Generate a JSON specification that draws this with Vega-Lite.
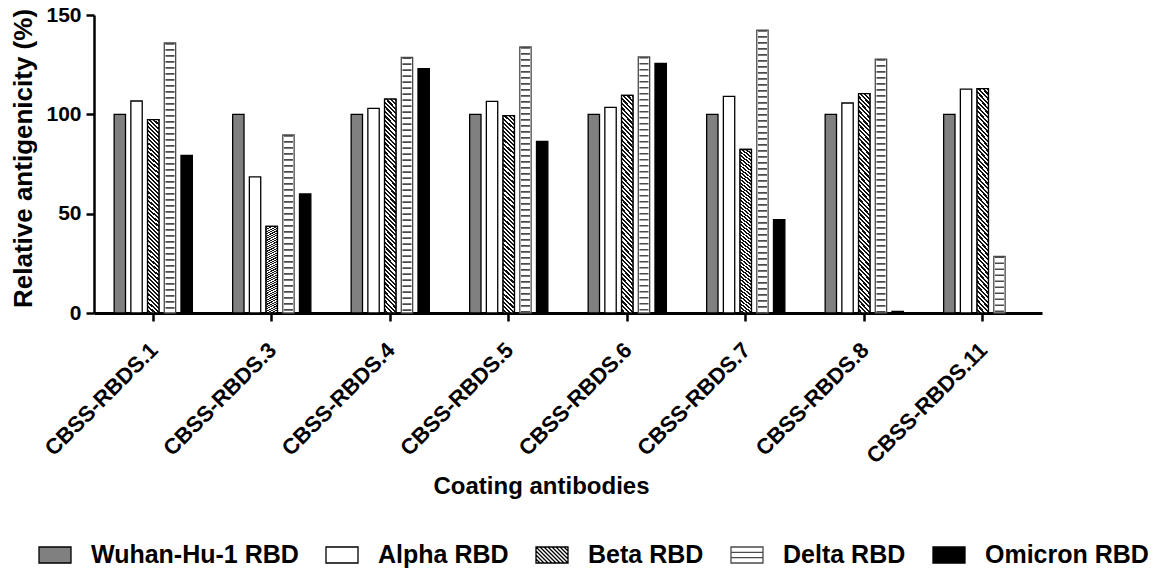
{
  "$schema": "https://vega.github.io/schema/vega-lite/v6.json",
  "width": 948,
  "height": 298,
  "autosize": {"type": "none"},
  "padding": {"left": 94, "top": 15, "right": 112, "bottom": 256},
  "background": "white",
  "config": {
    "font": "Liberation Sans",
    "view": {"stroke": null},
    "axis": {
      "grid": false,
      "domainColor": "#000",
      "tickColor": "#000",
      "tickWidth": 2.5,
      "tickSize": 8,
      "labelColor": "#000",
      "labelFont": "Liberation Sans",
      "labelFontWeight": "bold",
      "titleFont": "Liberation Sans",
      "titleFontWeight": "bold",
      "titleColor": "#000"
    },
    "legend": {
      "symbolSize": 1024,
      "symbolStrokeWidth": 1.3,
      "symbolOpacity": 1,
      "labelFont": "Liberation Sans",
      "labelFontSize": 25,
      "labelFontWeight": "bold",
      "labelColor": "#000",
      "labelOffset": 19,
      "columnPadding": 24,
      "labelLimit": 400
    }
  },
  "data": {
    "values": [
      {"antibody": "CBSS-RBDS.1", "series": "Wuhan-Hu-1 RBD", "value": 100},
      {"antibody": "CBSS-RBDS.1", "series": "Alpha RBD", "value": 106.7},
      {"antibody": "CBSS-RBDS.1", "series": "Beta RBD", "value": 97.3},
      {"antibody": "CBSS-RBDS.1", "series": "Delta RBD", "value": 135.9},
      {"antibody": "CBSS-RBDS.1", "series": "Omicron RBD", "value": 79.3},
      {"antibody": "CBSS-RBDS.3", "series": "Wuhan-Hu-1 RBD", "value": 100},
      {"antibody": "CBSS-RBDS.3", "series": "Alpha RBD", "value": 68.5},
      {"antibody": "CBSS-RBDS.3", "series": "Beta RBD", "value": 43.6},
      {"antibody": "CBSS-RBDS.3", "series": "Delta RBD", "value": 89.6},
      {"antibody": "CBSS-RBDS.3", "series": "Omicron RBD", "value": 59.9},
      {"antibody": "CBSS-RBDS.4", "series": "Wuhan-Hu-1 RBD", "value": 100},
      {"antibody": "CBSS-RBDS.4", "series": "Alpha RBD", "value": 103.0},
      {"antibody": "CBSS-RBDS.4", "series": "Beta RBD", "value": 107.7},
      {"antibody": "CBSS-RBDS.4", "series": "Delta RBD", "value": 128.7},
      {"antibody": "CBSS-RBDS.4", "series": "Omicron RBD", "value": 123.0},
      {"antibody": "CBSS-RBDS.5", "series": "Wuhan-Hu-1 RBD", "value": 100},
      {"antibody": "CBSS-RBDS.5", "series": "Alpha RBD", "value": 106.5},
      {"antibody": "CBSS-RBDS.5", "series": "Beta RBD", "value": 99.3},
      {"antibody": "CBSS-RBDS.5", "series": "Delta RBD", "value": 133.9},
      {"antibody": "CBSS-RBDS.5", "series": "Omicron RBD", "value": 86.4},
      {"antibody": "CBSS-RBDS.6", "series": "Wuhan-Hu-1 RBD", "value": 100},
      {"antibody": "CBSS-RBDS.6", "series": "Alpha RBD", "value": 103.5},
      {"antibody": "CBSS-RBDS.6", "series": "Beta RBD", "value": 109.5},
      {"antibody": "CBSS-RBDS.6", "series": "Delta RBD", "value": 128.9},
      {"antibody": "CBSS-RBDS.6", "series": "Omicron RBD", "value": 125.6},
      {"antibody": "CBSS-RBDS.7", "series": "Wuhan-Hu-1 RBD", "value": 100},
      {"antibody": "CBSS-RBDS.7", "series": "Alpha RBD", "value": 109.0},
      {"antibody": "CBSS-RBDS.7", "series": "Beta RBD", "value": 82.3},
      {"antibody": "CBSS-RBDS.7", "series": "Delta RBD", "value": 142.4},
      {"antibody": "CBSS-RBDS.7", "series": "Omicron RBD", "value": 47.0},
      {"antibody": "CBSS-RBDS.8", "series": "Wuhan-Hu-1 RBD", "value": 100},
      {"antibody": "CBSS-RBDS.8", "series": "Alpha RBD", "value": 105.7},
      {"antibody": "CBSS-RBDS.8", "series": "Beta RBD", "value": 110.4},
      {"antibody": "CBSS-RBDS.8", "series": "Delta RBD", "value": 127.8},
      {"antibody": "CBSS-RBDS.8", "series": "Omicron RBD", "value": 0.8},
      {"antibody": "CBSS-RBDS.11", "series": "Wuhan-Hu-1 RBD", "value": 100},
      {"antibody": "CBSS-RBDS.11", "series": "Alpha RBD", "value": 112.7},
      {"antibody": "CBSS-RBDS.11", "series": "Beta RBD", "value": 112.9},
      {"antibody": "CBSS-RBDS.11", "series": "Delta RBD", "value": 28.5}
    ]
  },
  "encoding": {
    "x": {
      "field": "antibody",
      "type": "nominal",
      "title": "Coating antibodies",
      "scale": {
        "domain": ["CBSS-RBDS.1", "CBSS-RBDS.3", "CBSS-RBDS.4", "CBSS-RBDS.5", "CBSS-RBDS.6", "CBSS-RBDS.7", "CBSS-RBDS.8", "CBSS-RBDS.11"],
        "paddingInner": 0.34,
        "paddingOuter": 0.17
      },
      "axis": {
        "labelAngle": -45,
        "labelAlign": "right",
        "labelBaseline": "top",
        "labelFontSize": 22,
        "labelPadding": 18,
        "labelOffset": -6,
        "titleFontSize": 24,
        "titleX": 447,
        "titleY": 180,
        "titleAlign": "center",
        "titleBaseline": "alphabetic",
        "domainWidth": 3
      }
    },
    "xOffset": {
      "field": "series",
      "type": "nominal",
      "scale": {
        "domain": ["Wuhan-Hu-1 RBD", "Alpha RBD", "Beta RBD", "Delta RBD", "Omicron RBD"],
        "paddingInner": 0.32,
        "paddingOuter": 0
      }
    },
    "y": {
      "field": "value",
      "type": "quantitative",
      "title": "Relative antigenicity (%)",
      "scale": {"domain": [0, 150], "nice": false},
      "axis": {
        "values": [0, 50, 100, 150],
        "labelFontSize": 21,
        "labelPadding": 5,
        "labelFlush": false,
        "titleFontSize": 26,
        "titleX": -63,
        "titleY": 143,
        "titleAngle": -90,
        "titleAlign": "center",
        "titleBaseline": "alphabetic",
        "domainWidth": 2.5
      }
    }
  },
  "layer": [
    {
      "mark": {"type": "bar", "strokeWidth": 1.3},
      "encoding": {
        "fill": {
          "field": "series",
          "type": "nominal",
          "scale": {
            "domain": ["Wuhan-Hu-1 RBD", "Alpha RBD", "Beta RBD", "Delta RBD", "Omicron RBD"],
            "range": ["#808080", "#ffffff", "#ffffff", "#ffffff", "#000000"]
          },
          "legend": {"title": null, "orient": "none", "legendX": -56, "legendY": 523, "direction": "horizontal", "columns": 5}
        },
        "stroke": {
          "field": "series",
          "type": "nominal",
          "scale": {
            "domain": ["Wuhan-Hu-1 RBD", "Alpha RBD", "Beta RBD", "Delta RBD", "Omicron RBD"],
            "range": ["#000000", "#000000", "#000000", "#4a4a4a", "#000000"]
          },
          "legend": {"title": null, "orient": "none", "legendX": -56, "legendY": 523, "direction": "horizontal", "columns": 5}
        }
      }
    },
    {
      "transform": [{"filter": "datum.series === 'Beta RBD'"}],
      "mark": {
        "type": "bar",
        "stroke": "#000000",
        "strokeWidth": 1.3,
        "fill": {
          "gradient": "linear",
          "x1": 1, "y1": 0, "x2": 0.9417, "y2": 1.0522,
          "stops": [
            {"offset":0,"color":"#111"},{"offset":0.01,"color":"#111"},{"offset":0.01,"color":"#fff"},{"offset":0.02,"color":"#fff"},
            {"offset":0.02,"color":"#111"},{"offset":0.03,"color":"#111"},{"offset":0.03,"color":"#fff"},{"offset":0.04,"color":"#fff"},
            {"offset":0.04,"color":"#111"},{"offset":0.05,"color":"#111"},{"offset":0.05,"color":"#fff"},{"offset":0.06,"color":"#fff"},
            {"offset":0.06,"color":"#111"},{"offset":0.07,"color":"#111"},{"offset":0.07,"color":"#fff"},{"offset":0.08,"color":"#fff"},
            {"offset":0.08,"color":"#111"},{"offset":0.09,"color":"#111"},{"offset":0.09,"color":"#fff"},{"offset":0.10,"color":"#fff"},
            {"offset":0.10,"color":"#111"},{"offset":0.11,"color":"#111"},{"offset":0.11,"color":"#fff"},{"offset":0.12,"color":"#fff"},
            {"offset":0.12,"color":"#111"},{"offset":0.13,"color":"#111"},{"offset":0.13,"color":"#fff"},{"offset":0.14,"color":"#fff"},
            {"offset":0.14,"color":"#111"},{"offset":0.15,"color":"#111"},{"offset":0.15,"color":"#fff"},{"offset":0.16,"color":"#fff"},
            {"offset":0.16,"color":"#111"},{"offset":0.17,"color":"#111"},{"offset":0.17,"color":"#fff"},{"offset":0.18,"color":"#fff"},
            {"offset":0.18,"color":"#111"},{"offset":0.19,"color":"#111"},{"offset":0.19,"color":"#fff"},{"offset":0.20,"color":"#fff"},
            {"offset":0.20,"color":"#111"},{"offset":0.21,"color":"#111"},{"offset":0.21,"color":"#fff"},{"offset":0.22,"color":"#fff"},
            {"offset":0.22,"color":"#111"},{"offset":0.23,"color":"#111"},{"offset":0.23,"color":"#fff"},{"offset":0.24,"color":"#fff"},
            {"offset":0.24,"color":"#111"},{"offset":0.25,"color":"#111"},{"offset":0.25,"color":"#fff"},{"offset":0.26,"color":"#fff"},
            {"offset":0.26,"color":"#111"},{"offset":0.27,"color":"#111"},{"offset":0.27,"color":"#fff"},{"offset":0.28,"color":"#fff"},
            {"offset":0.28,"color":"#111"},{"offset":0.29,"color":"#111"},{"offset":0.29,"color":"#fff"},{"offset":0.30,"color":"#fff"},
            {"offset":0.30,"color":"#111"},{"offset":0.31,"color":"#111"},{"offset":0.31,"color":"#fff"},{"offset":0.32,"color":"#fff"},
            {"offset":0.32,"color":"#111"},{"offset":0.33,"color":"#111"},{"offset":0.33,"color":"#fff"},{"offset":0.34,"color":"#fff"},
            {"offset":0.34,"color":"#111"},{"offset":0.35,"color":"#111"},{"offset":0.35,"color":"#fff"},{"offset":0.36,"color":"#fff"},
            {"offset":0.36,"color":"#111"},{"offset":0.37,"color":"#111"},{"offset":0.37,"color":"#fff"},{"offset":0.38,"color":"#fff"},
            {"offset":0.38,"color":"#111"},{"offset":0.39,"color":"#111"},{"offset":0.39,"color":"#fff"},{"offset":0.40,"color":"#fff"},
            {"offset":0.40,"color":"#111"},{"offset":0.41,"color":"#111"},{"offset":0.41,"color":"#fff"},{"offset":0.42,"color":"#fff"},
            {"offset":0.42,"color":"#111"},{"offset":0.43,"color":"#111"},{"offset":0.43,"color":"#fff"},{"offset":0.44,"color":"#fff"},
            {"offset":0.44,"color":"#111"},{"offset":0.45,"color":"#111"},{"offset":0.45,"color":"#fff"},{"offset":0.46,"color":"#fff"},
            {"offset":0.46,"color":"#111"},{"offset":0.47,"color":"#111"},{"offset":0.47,"color":"#fff"},{"offset":0.48,"color":"#fff"},
            {"offset":0.48,"color":"#111"},{"offset":0.49,"color":"#111"},{"offset":0.49,"color":"#fff"},{"offset":0.50,"color":"#fff"},
            {"offset":0.50,"color":"#111"},{"offset":0.51,"color":"#111"},{"offset":0.51,"color":"#fff"},{"offset":0.52,"color":"#fff"},
            {"offset":0.52,"color":"#111"},{"offset":0.53,"color":"#111"},{"offset":0.53,"color":"#fff"},{"offset":0.54,"color":"#fff"},
            {"offset":0.54,"color":"#111"},{"offset":0.55,"color":"#111"},{"offset":0.55,"color":"#fff"},{"offset":0.56,"color":"#fff"},
            {"offset":0.56,"color":"#111"},{"offset":0.57,"color":"#111"},{"offset":0.57,"color":"#fff"},{"offset":0.58,"color":"#fff"},
            {"offset":0.58,"color":"#111"},{"offset":0.59,"color":"#111"},{"offset":0.59,"color":"#fff"},{"offset":0.60,"color":"#fff"},
            {"offset":0.60,"color":"#111"},{"offset":0.61,"color":"#111"},{"offset":0.61,"color":"#fff"},{"offset":0.62,"color":"#fff"},
            {"offset":0.62,"color":"#111"},{"offset":0.63,"color":"#111"},{"offset":0.63,"color":"#fff"},{"offset":0.64,"color":"#fff"},
            {"offset":0.64,"color":"#111"},{"offset":0.65,"color":"#111"},{"offset":0.65,"color":"#fff"},{"offset":0.66,"color":"#fff"},
            {"offset":0.66,"color":"#111"},{"offset":0.67,"color":"#111"},{"offset":0.67,"color":"#fff"},{"offset":0.68,"color":"#fff"},
            {"offset":0.68,"color":"#111"},{"offset":0.69,"color":"#111"},{"offset":0.69,"color":"#fff"},{"offset":0.70,"color":"#fff"},
            {"offset":0.70,"color":"#111"},{"offset":0.71,"color":"#111"},{"offset":0.71,"color":"#fff"},{"offset":0.72,"color":"#fff"},
            {"offset":0.72,"color":"#111"},{"offset":0.73,"color":"#111"},{"offset":0.73,"color":"#fff"},{"offset":0.74,"color":"#fff"},
            {"offset":0.74,"color":"#111"},{"offset":0.75,"color":"#111"},{"offset":0.75,"color":"#fff"},{"offset":0.76,"color":"#fff"},
            {"offset":0.76,"color":"#111"},{"offset":0.77,"color":"#111"},{"offset":0.77,"color":"#fff"},{"offset":0.78,"color":"#fff"},
            {"offset":0.78,"color":"#111"},{"offset":0.79,"color":"#111"},{"offset":0.79,"color":"#fff"},{"offset":0.80,"color":"#fff"},
            {"offset":0.80,"color":"#111"},{"offset":0.81,"color":"#111"},{"offset":0.81,"color":"#fff"},{"offset":0.82,"color":"#fff"},
            {"offset":0.82,"color":"#111"},{"offset":0.83,"color":"#111"},{"offset":0.83,"color":"#fff"},{"offset":0.84,"color":"#fff"},
            {"offset":0.84,"color":"#111"},{"offset":0.85,"color":"#111"},{"offset":0.85,"color":"#fff"},{"offset":0.86,"color":"#fff"},
            {"offset":0.86,"color":"#111"},{"offset":0.87,"color":"#111"},{"offset":0.87,"color":"#fff"},{"offset":0.88,"color":"#fff"},
            {"offset":0.88,"color":"#111"},{"offset":0.89,"color":"#111"},{"offset":0.89,"color":"#fff"},{"offset":0.90,"color":"#fff"},
            {"offset":0.90,"color":"#111"},{"offset":0.91,"color":"#111"},{"offset":0.91,"color":"#fff"},{"offset":0.92,"color":"#fff"},
            {"offset":0.92,"color":"#111"},{"offset":0.93,"color":"#111"},{"offset":0.93,"color":"#fff"},{"offset":0.94,"color":"#fff"},
            {"offset":0.94,"color":"#111"},{"offset":0.95,"color":"#111"},{"offset":0.95,"color":"#fff"},{"offset":0.96,"color":"#fff"},
            {"offset":0.96,"color":"#111"},{"offset":0.97,"color":"#111"},{"offset":0.97,"color":"#fff"},{"offset":0.98,"color":"#fff"},
            {"offset":0.98,"color":"#111"},{"offset":0.99,"color":"#111"},{"offset":0.99,"color":"#fff"},{"offset":1,"color":"#fff"}
          ]
        }
      }
    },
    {
      "transform": [{"filter": "datum.series === 'Delta RBD'"}],
      "mark": {"type": "rule", "strokeWidth": 9, "strokeDash": [1.7, 4.3], "color": "#4a4a4a", "strokeCap": "butt"},
      "encoding": {
        "y2": {"datum": 0}
      }
    },
    {
      "mark": {"type": "point", "filled": true, "opacity": 0},
      "encoding": {
        "fill": {
          "field": "series",
          "type": "nominal",
          "scale": {
            "domain": ["Wuhan-Hu-1 RBD", "Alpha RBD", "Beta RBD", "Delta RBD", "Omicron RBD"],
            "range": ["#808080", "#ffffff", "#ffffff", "#ffffff", "#000000"]
          },
          "legend": {"title": null, "orient": "none", "legendX": -56, "legendY": 523, "direction": "horizontal", "columns": 5}
        },
        "stroke": {
          "field": "series",
          "type": "nominal",
          "scale": {
            "domain": ["Wuhan-Hu-1 RBD", "Alpha RBD", "Beta RBD", "Delta RBD", "Omicron RBD"],
            "range": ["#000000", "#000000", "#000000", "#4a4a4a", "#000000"]
          },
          "legend": {"title": null, "orient": "none", "legendX": -56, "legendY": 523, "direction": "horizontal", "columns": 5}
        },
        "shape": {
          "field": "series",
          "type": "nominal",
          "scale": {
            "domain": ["Wuhan-Hu-1 RBD", "Alpha RBD", "Beta RBD", "Delta RBD", "Omicron RBD"],
            "range": [
              "M-1,-0.5H1V0.5H-1Z",
              "M-1,-0.5H1V0.5H-1Z",
              "M-1,-0.5H1V0.5H-1Z M-1,0.25L-0.75,0.5 M-1,0L-0.5,0.5 M-1,-0.25L-0.25,0.5 M-1,-0.5L0,0.5 M-0.75,-0.5L0.25,0.5 M-0.5,-0.5L0.5,0.5 M-0.25,-0.5L0.75,0.5 M0,-0.5L1,0.5 M0.25,-0.5L1,0.25 M0.5,-0.5L1,0 M0.75,-0.5L1,-0.25",
              "M-1,-0.5H1V0.5H-1Z M-1,-0.1667H1 M-1,0.1667H1",
              "M-1,-0.5H1V0.5H-1Z"
            ]
          },
          "legend": {"title": null, "orient": "none", "legendX": -56, "legendY": 523, "direction": "horizontal", "columns": 5}
        }
      }
    }
  ]
}
